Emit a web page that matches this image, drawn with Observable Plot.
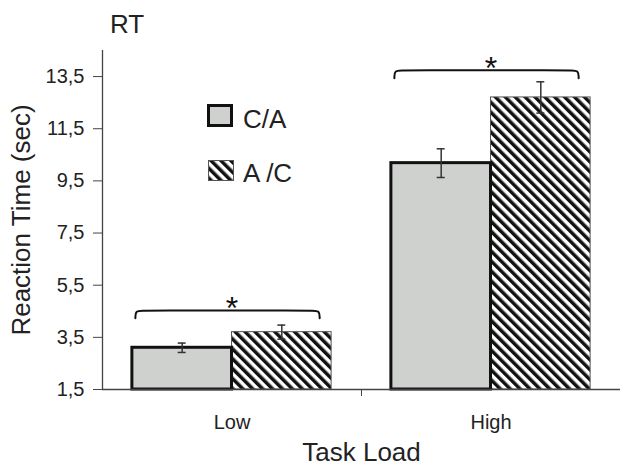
<!DOCTYPE html>
<html>
<head>
<meta charset="utf-8">
<script src="https://cdn.jsdelivr.net/npm/d3@7"></script>
<script src="https://cdn.jsdelivr.net/npm/@observablehq/plot@0.6"></script>
<style>
  body { margin: 0; background: #fff; font-family: "Liberation Sans", Arial, sans-serif; color: #222; }
  #wrap { position: relative; width: 620px; height: 470px; }
  .ov { position: absolute; line-height: 26px; font-size: 26px; white-space: pre; color: #222; }
</style>
</head>
<body>
<div id="wrap"></div>
<script>
// ---- data ----
const loads = ["Low", "High"];
const conditions = ["C/A", "A/C"];
const rtCA = [3.1, 10.18];
const rtAC = [3.7, 12.7];
const errCA = [0.18, 0.55];
const errAC = [0.27, 0.6];
const yTicks = [1.5, 3.5, 5.5, 7.5, 9.5, 11.5, 13.5];
const bracketLevel = [4.53, 13.74];
const significance = ["*", "*"];
const title = "RT";
const yLabel = "Reaction Time (sec)";
const xLabel = "Task Load";

// ---- layout in x units (one unit = one bar) ----
const outerPad = 0.3, groupGap = 0.6, base = 1.5;
const groupStart = g => outerPad + g * (conditions.length + groupGap);
const xMax = 2 * outerPad + loads.length * conditions.length + (loads.length - 1) * groupGap;
const groupCenter = g => groupStart(g) + conditions.length / 2;

const bars = loads.flatMap((load, g) => conditions.map((cond, c) => {
  const rt = c === 0 ? rtCA[g] : rtAC[g];
  const err = c === 0 ? errCA[g] : errAC[g];
  const x1 = groupStart(g) + c;
  return {load, cond, rt, err, x1, x2: x1 + 1, xc: x1 + 0.5, lo: rt - err, hi: rt + err};
}));

const bracketPts = loads.flatMap((load, g) => {
  const a = groupStart(g) + 0.03, b = groupStart(g) + 1.88;
  const top = bracketLevel[g], lo = top - 0.3;
  return [[a, lo], [a, top], [a + 0.08, top], [b - 0.08, top], [b, top], [b, lo]].map(([x, y]) => ({load, x, y}));
});
const stars = loads.map((load, g) => ({load, x: groupCenter(g), y: bracketLevel[g], s: significance[g]}));
const centers = loads.map((_, g) => groupCenter(g));
const boundary = (groupCenter(0) + groupCenter(1)) / 2;

const plot = Plot.plot({
  width: 620,
  height: 470,
  marginLeft: 102,
  marginRight: 0,
  marginTop: 50,
  marginBottom: 81,
  style: {fontFamily: '"Liberation Sans", Arial, sans-serif', color: "#222", background: "transparent"},
  x: {domain: [0, xMax]},
  y: {domain: [1.5, 14.5]},
  marks: [
    Plot.rectY(bars.filter(d => d.cond === "A/C"), {x1: "x1", x2: "x2", y1: base, y2: "rt", fill: "url(#hatch)", stroke: "#555", strokeWidth: 1}),
    Plot.rectY(bars.filter(d => d.cond === "C/A"), {x1: "x1", x2: "x2", y1: base, y2: "rt", fill: "#cfd1cf", stroke: "#111", strokeWidth: 3}),
    Plot.ruleX(bars, {x: "xc", y1: "lo", y2: "hi", stroke: "#333", strokeWidth: 1.5}),
    Plot.ruleY(bars, {y: "hi", x1: d => d.xc - 0.04, x2: d => d.xc + 0.04, stroke: "#333", strokeWidth: 1.5}),
    Plot.ruleY(bars, {y: "lo", x1: d => d.xc - 0.04, x2: d => d.xc + 0.04, stroke: "#333", strokeWidth: 1.5}),
    Plot.line(bracketPts, {x: "x", y: "y", z: "load", curve: "basis", stroke: "#111", strokeWidth: 2}),
    Plot.text(stars, {x: "x", y: "y", text: "s", dy: -2, fontSize: 32, fill: "#111"}),
    Plot.ruleY([base], {stroke: "#444", strokeWidth: 1.3}),
    Plot.ruleX([0], {stroke: "#444", strokeWidth: 1.3}),
    Plot.axisY({ticks: yTicks, tickSize: 9, tickPadding: 9, tickFormat: d => String(d).replace(".", ","), fontSize: 20, label: null, stroke: "#444"}),
    Plot.axisX({ticks: centers, tickSize: 0, tickPadding: 25, tickFormat: d => loads[centers.indexOf(d)], fontSize: 20, label: null}),
    Plot.axisX({ticks: [boundary], tickSize: 7, tickFormat: () => "", label: null, stroke: "#444"}),
    Plot.text([yLabel], {frameAnchor: "left", textAnchor: "middle", rotate: -90, dx: -81, fontSize: 26, fill: "#222"}),
    Plot.text([xLabel], {frameAnchor: "bottom", dy: 71, fontSize: 26, fill: "#222"})
  ]
});

plot.insertAdjacentHTML("afterbegin",
  '<defs><pattern id="hatch" patternUnits="userSpaceOnUse" width="7" height="7" patternTransform="rotate(-45)">' +
  '<rect width="7" height="7" fill="#fff"/><rect x="0" y="0" width="3.5" height="7" fill="#111"/></pattern></defs>');

const wrap = document.getElementById("wrap");
wrap.appendChild(plot);

function overlay(html, left, top) {
  const d = document.createElement("div");
  d.className = "ov";
  d.style.left = left + "px";
  d.style.top = top + "px";
  d.innerHTML = html;
  wrap.appendChild(d);
  return d;
}
overlay(title, 110, 11);
// legend
const sw1 = document.createElement("div");
Object.assign(sw1.style, {position: "absolute", left: "207px", top: "104px", width: "26px", height: "23px", boxSizing: "border-box", border: "3px solid #111", background: "#cfd1cf"});
wrap.appendChild(sw1);
overlay(conditions[0], 243, 106);
const sw2 = document.createElement("div");
Object.assign(sw2.style, {position: "absolute", left: "208px", top: "160px", width: "26px", height: "21px"});
sw2.innerHTML = '<svg width="26" height="21"><defs><pattern id="hatch2" patternUnits="userSpaceOnUse" width="7" height="7" patternTransform="rotate(-45)">' +
  '<rect width="7" height="7" fill="#fff"/><rect width="3.5" height="7" fill="#111"/></pattern></defs>' +
  '<rect x="0.5" y="0.5" width="25" height="20" fill="url(#hatch2)" stroke="#555" stroke-width="1"/></svg>';
wrap.appendChild(sw2);
overlay("A /C", 243, 160);
</script>
</body>
</html>
